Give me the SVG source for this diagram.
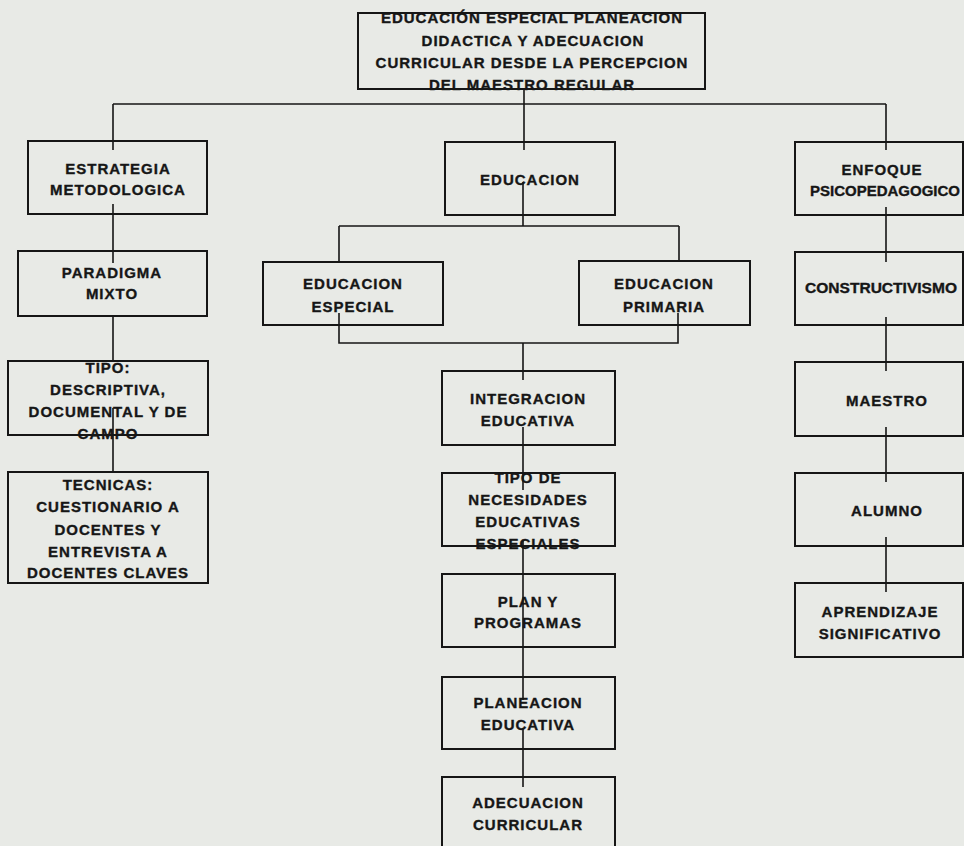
<svg xmlns="http://www.w3.org/2000/svg" width="964" height="846" viewBox="0 0 964 846">
<style>
.bg{fill:#e8eae6}
.box{fill:none;stroke:#161616;stroke-width:2}
.c{fill:none;stroke:#161616;stroke-width:1.6}
.t{font-family:"Liberation Sans",Arial,sans-serif;font-weight:bold;font-size:15px;letter-spacing:1px;text-anchor:middle;fill:#161616;stroke:#161616;stroke-width:0.35}
.tight{letter-spacing:0px}
</style>
<rect class="bg" x="0" y="0" width="964" height="846"/>
<g id="connectors">
<path class="c" d="M524 89V150M113 104H886M113 104V150M886 104V150"/>
<path class="c" d="M113 204V263M113 316V361M113 408V472"/>
<path class="c" d="M523 182V226M339 226H679M339 226V262M679 226V261"/>
<path class="c" d="M339 313V343H678V313M523 343V380M523 427V490M523 540V700M523 728V787"/>
<path class="c" d="M886 207V262M886 317V371M886 427V482M886 537V592"/>
</g>
<g id="n-title"><rect class="box" x="358" y="13" width="347" height="76"/>
<text class="t" x="532" y="23">EDUCACIÓN ESPECIAL PLANEACION</text>
<text class="t" x="533" y="46">DIDACTICA  Y ADECUACION</text>
<text class="t" x="532" y="68">CURRICULAR DESDE LA PERCEPCION</text>
<text class="t" x="532" y="90">DEL MAESTRO REGULAR</text></g>
<g id="n-estrategia"><rect class="box" x="28" y="141" width="179" height="73"/>
<text class="t" x="118" y="174">ESTRATEGIA</text><text class="t" x="118" y="195">METODOLOGICA</text></g>
<g id="n-paradigma"><rect class="box" x="18" y="251" width="189" height="65"/>
<text class="t" x="112" y="278">PARADIGMA</text><text class="t" x="112" y="299">MIXTO</text></g>
<g id="n-tipo"><rect class="box" x="8" y="361" width="200" height="74"/>
<text class="t" x="108" y="373">TIPO:</text><text class="t" x="108" y="395">DESCRIPTIVA,</text>
<text class="t" x="108" y="417">DOCUMENTAL Y DE</text><text class="t" x="108" y="439">CAMPO</text></g>
<g id="n-tecnicas"><rect class="box" x="8" y="472" width="200" height="111"/>
<text class="t" x="108" y="490">TECNICAS:</text><text class="t" x="108" y="512">CUESTIONARIO A</text>
<text class="t" x="108" y="535">DOCENTES Y</text><text class="t" x="108" y="557">ENTREVISTA A</text>
<text class="t" x="108" y="578">DOCENTES CLAVES</text></g>
<g id="n-educacion"><rect class="box" x="445" y="142" width="170" height="73"/>
<text class="t" x="530" y="185">EDUCACION</text></g>
<g id="n-especial"><rect class="box" x="263" y="262" width="180" height="63"/>
<text class="t" x="353" y="289">EDUCACION</text><text class="t" x="353" y="312">ESPECIAL</text></g>
<g id="n-primaria"><rect class="box" x="579" y="261" width="171" height="64"/>
<text class="t" x="664" y="289">EDUCACION</text><text class="t" x="664" y="312">PRIMARIA</text></g>
<g id="n-integracion"><rect class="box" x="442" y="371" width="173" height="74"/>
<text class="t" x="528" y="404">INTEGRACION</text><text class="t" x="528" y="426">EDUCATIVA</text></g>
<g id="n-necesidades"><rect class="box" x="442" y="473" width="173" height="73"/>
<text class="t" x="528" y="483">TIPO DE</text><text class="t" x="528" y="505">NECESIDADES</text>
<text class="t" x="528" y="527">EDUCATIVAS</text><text class="t" x="528" y="549">ESPECIALES</text></g>
<g id="n-plan"><rect class="box" x="442" y="574" width="173" height="73"/>
<text class="t" x="528" y="607">PLAN Y</text><text class="t" x="528" y="628">PROGRAMAS</text></g>
<g id="n-planeacion"><rect class="box" x="442" y="677" width="173" height="72"/>
<text class="t" x="528" y="708">PLANEACION</text><text class="t" x="528" y="730">EDUCATIVA</text></g>
<g id="n-adecuacion"><rect class="box" x="442" y="777" width="173" height="90"/>
<text class="t" x="528" y="808">ADECUACION</text><text class="t" x="528" y="830">CURRICULAR</text></g>
<g id="n-enfoque"><rect class="box" x="795" y="142" width="168" height="73"/>
<text class="t" x="882" y="175">ENFOQUE</text><text class="t tight" x="885" y="196" textLength="150" lengthAdjust="spacingAndGlyphs">PSICOPEDAGOGICO</text></g>
<g id="n-constructivismo"><rect class="box" x="795" y="252" width="168" height="73"/>
<text class="t tight" x="881" y="293" textLength="152" lengthAdjust="spacingAndGlyphs">CONSTRUCTIVISMO</text></g>
<g id="n-maestro"><rect class="box" x="795" y="362" width="168" height="74"/>
<text class="t" x="887" y="406">MAESTRO</text></g>
<g id="n-alumno"><rect class="box" x="795" y="473" width="168" height="73"/>
<text class="t" x="887" y="516">ALUMNO</text></g>
<g id="n-aprendizaje"><rect class="box" x="795" y="583" width="168" height="74"/>
<text class="t" x="880" y="617">APRENDIZAJE</text><text class="t" x="880" y="639">SIGNIFICATIVO</text></g>
</svg>
